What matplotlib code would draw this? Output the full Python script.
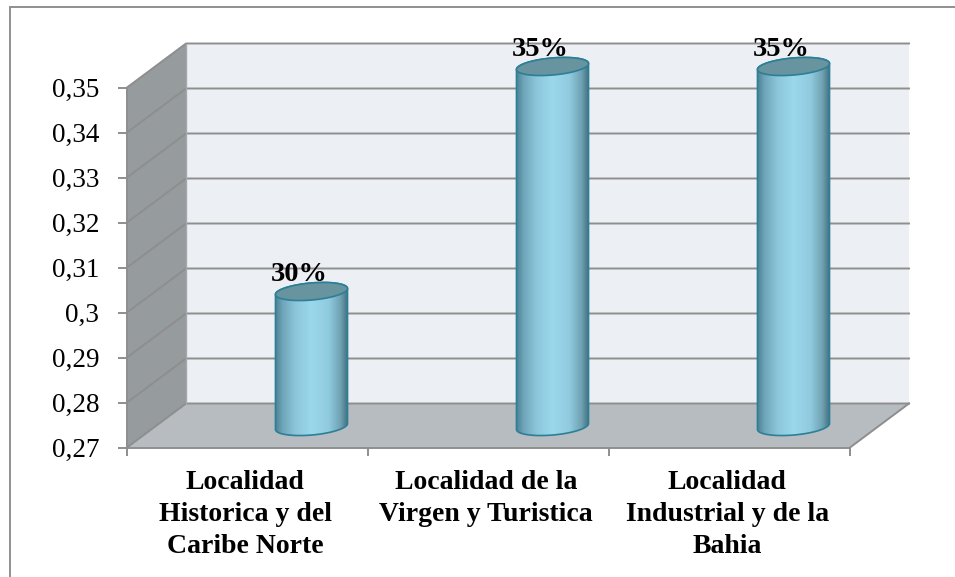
import matplotlib as mpl
mpl.use('Agg')
import matplotlib.pyplot as plt
import numpy as np
from matplotlib.colors import LinearSegmentedColormap
from matplotlib.patches import Polygon, Rectangle
from matplotlib.transforms import Affine2D, IdentityTransform

categories = ["Localidad\nHistorica y del\nCaribe Norte",
              "Localidad de la\nVirgen y Turistica",
              "Localidad\nIndustrial y de la\nBahia"]
values = [0.30, 0.35, 0.35]
bar_labels = ["30%", "35%", "35%"]
y_ticks = [0.27, 0.28, 0.29, 0.30, 0.31, 0.32, 0.33, 0.34, 0.35]
y_labels = ["0,27", "0,28", "0,29", "0,3", "0,31", "0,32", "0,33", "0,34", "0,35"]

W, H = 955, 577
GRID = '#8e8e8e'
plt.rcParams['font.family'] = ['Liberation Serif', 'DejaVu Serif']

fig = plt.figure(figsize=(W / 100, H / 100), dpi=100, facecolor='white')
# front plane of the fake 3d box, in pixels of the picture
ax = fig.add_axes([127 / W, 1 - 447.5 / H, 723 / W, 360 / H])
ax.set_facecolor('none')
ax.set_xlim(0, 3)
ax.set_ylim(0.27, 0.35)
ax.set_autoscale_on(False)

# outer frame runs off the bottom of the picture
fig.add_artist(Rectangle((10, -20), 960, 20 + H - 7, transform=IdentityTransform(),
                         fill=False, edgecolor='#8f8f8f', linewidth=1.4))

back = ax.transData + Affine2D().translate(59, 44)   # back wall
depth = ax.transData + Affine2D().translate(64, 21)  # where the bars stand


def px(trans, x, y):
    return trans.transform((x, y))


def poly(points, color, z):
    ax.add_patch(Polygon(points, closed=True, facecolor=color, edgecolor='none',
                         transform=IdentityTransform(), clip_on=False, zorder=z))


y0, y1 = ax.get_ylim()
poly([px(back, 0, y0), px(back, 3, y0), px(back, 3, y1), px(back, 0, y1)], '#eceff4', 1)
poly([px(ax.transData, 0, y0), px(back, 0, y0), px(back, 0, y1), px(ax.transData, 0, y1)], '#969b9e', 1)
poly([px(ax.transData, 0, y0), px(ax.transData, 3, y0), px(back, 3, y0), px(back, 0, y0)], '#b6bcbf', 1)

for t in y_ticks:
    a, b, c = px(ax.transData, 0, t), px(back, 0, t), px(back, 3, t)
    ax.plot([a[0], b[0], c[0]], [a[1], b[1], c[1]], color=GRID, lw=1.4,
            transform=IdentityTransform(), clip_on=False, zorder=2)
a, b = px(ax.transData, 3, y0), px(back, 3, y0)
ax.plot([a[0], b[0]], [a[1], b[1]], color=GRID, lw=1.4,
        transform=IdentityTransform(), clip_on=False, zorder=2)
a, b = px(back, 0, y0), px(back, 0, y1)
ax.plot([a[0], b[0]], [a[1], b[1]], color='#a5a9ac', lw=1.0,
        transform=IdentityTransform(), clip_on=False, zorder=2)

shade = LinearSegmentedColormap.from_list('cyl', [
    (0.00, '#4a8093'), (0.10, '#6fa5b8'), (0.28, '#8cc6da'), (0.50, '#9cd8ec'),
    (0.74, '#90cade'), (0.90, '#6fa2b3'), (1.00, '#44717f')])
bar_width = 0.3
tilt = np.radians(5)
minor = 8.5
edge = '#2c7f96'


def ellipse(c, major, t):
    return np.column_stack([
        c[0] + major * np.cos(t) * np.cos(tilt) - minor * np.sin(t) * np.sin(tilt),
        c[1] + major * np.cos(t) * np.sin(tilt) + minor * np.sin(t) * np.cos(tilt)])


for i, v in enumerate(values):
    x = i + 0.5
    bottom = px(depth, x, y0)
    top = px(depth, x, v)
    major = (px(depth, x + bar_width / 2, y0) - bottom)[0]
    outline = np.vstack([ellipse(bottom, major, np.linspace(np.pi, 2 * np.pi, 60)),
                         ellipse(top, major, np.linspace(0, np.pi, 60))])
    body = Polygon(outline, closed=True, facecolor='none', edgecolor=edge, linewidth=1.2,
                   transform=IdentityTransform(), clip_on=False, zorder=4)
    ax.add_patch(body)
    img = ax.imshow(np.linspace(0, 1, 200)[None, :], cmap=shade, aspect='auto',
                    extent=(x - bar_width / 2, x + bar_width / 2, y0 - 0.01, v + 0.01),
                    transform=depth, zorder=3)
    img.set_clip_path(body)
    img.set_clip_box(fig.bbox)  # top of the tall bars is above the axes
    ax.add_patch(Polygon(ellipse(top, major, np.linspace(0, 2 * np.pi, 120)), closed=True,
                         facecolor='#67949f', edgecolor=edge, linewidth=1.2,
                         transform=IdentityTransform(), clip_on=False, zorder=5))
    ax.annotate(bar_labels[i], xy=(x, v), xycoords=depth, xytext=(-9, 12),
                textcoords='offset points', ha='center', va='center', fontsize=20.5,
                fontweight='bold', color='black', zorder=6, annotation_clip=False)

ax.set_xlim(0, 3)
ax.set_ylim(0.27, 0.35)
for s in ['top', 'right']:
    ax.spines[s].set_visible(False)
for s in ['left', 'bottom']:
    ax.spines[s].set_color(GRID)
    ax.spines[s].set_linewidth(1.4)
    ax.spines[s].set_zorder(2.5)

ax.set_yticks(y_ticks)
ax.set_yticklabels(y_labels, fontsize=19.5, color='black')
ax.tick_params(axis='y', length=6.5, width=1.4, color=GRID, pad=13.5)
ax.set_xticks([0, 1, 2, 3])
ax.set_xticklabels([])
ax.set_xticks([0.49, 1.49, 2.49], minor=True)
ax.set_xticklabels(categories, minor=True, fontsize=20, fontweight='bold',
                   linespacing=1.35, ha='center', va='top')
ax.tick_params(axis='x', which='major', length=5.8, width=1.4, color=GRID)
ax.tick_params(axis='x', which='minor', length=0, pad=16.5)

plt.savefig('out.png', dpi=100)
